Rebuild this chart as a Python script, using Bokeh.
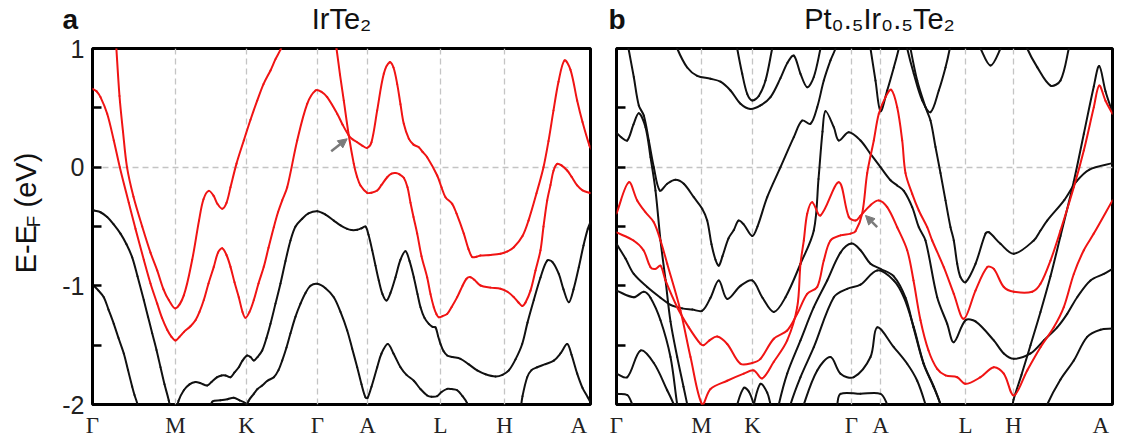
import math
from bokeh.plotting import figure
from bokeh.layouts import row, column
from bokeh.models import FixedTicker, Label, Arrow, NormalHead
from bokeh.embed import file_html
from bokeh.resources import INLINE

# ---------------- high-symmetry path ----------------
a_sym_k = [0.0, 0.83, 1.54, 2.25, 2.75, 3.48, 4.12, 4.98]
b_sym_k = [0.0, 0.85, 1.36, 2.35, 2.64, 3.49, 3.97, 4.96]
sym_labels = ["Γ", "M", "K", "Γ", "A", "L", "H", "A\u2002"]
e_ticks = [-2, -1, 0, 1]
e_minor = [-1.5, -0.5, 0.5]
title_a = "IrTe₂"
title_b = "Pt₀.₅Ir₀.₅Te₂"

# ---------------- panel a : IrTe2 (red bands) ----------------
a_r1_k = [0.235,0.27,0.305,0.345,0.41,0.497,0.58,0.647,0.71,0.763,0.83,0.913,0.997,1.065,1.11,1.163,1.21,1.25,1.297,1.34,1.38,1.44,1.513,1.58,1.647,1.71,1.78,1.83,1.88,1.91]
a_r1_e = [1.05,0.6,0.3,0.0,-0.25,-0.5,-0.72,-0.87,-1.03,-1.12,-1.19,-1.08,-0.78,-0.45,-0.27,-0.2,-0.24,-0.31,-0.35,-0.3,-0.17,0.03,0.225,0.40,0.56,0.70,0.815,0.91,0.99,1.05]

a_r2_k = [0.0,0.04,0.08,0.147,0.213,0.273,0.363,0.43,0.513,0.58,0.647,0.695,0.747,0.79,0.83,0.87,0.913,0.98,1.03,1.07,1.113,1.16,1.213,1.255,1.297,1.34,1.38,1.42,1.463,1.50,1.53,1.57,1.613,1.66,1.713,1.76,1.813,1.855,1.897,1.947,2.047,2.147,2.23,2.29,2.347,2.447,2.50,2.563,2.60,2.647,2.70,2.747,2.79,2.847,2.913,2.973,3.01,3.047,3.08,3.113,3.163,3.21,3.263,3.30,3.347,3.447,3.49,3.53,3.597,3.64,3.713,3.76,3.797,3.84,3.88,3.98,4.08,4.15,4.213,4.30,4.36,4.44,4.51,4.56,4.61,4.66,4.72,4.78,4.847,4.90,4.97,4.99]
a_r2_e = [0.66,0.64,0.59,0.45,0.225,0.0,-0.3,-0.52,-0.78,-0.98,-1.15,-1.27,-1.37,-1.43,-1.46,-1.43,-1.39,-1.34,-1.29,-1.22,-1.12,-0.98,-0.84,-0.72,-0.683,-0.74,-0.84,-0.97,-1.096,-1.22,-1.27,-1.22,-1.12,-0.98,-0.84,-0.68,-0.506,-0.38,-0.28,-0.17,0.225,0.534,0.646,0.635,0.59,0.45,0.36,0.267,0.235,0.21,0.18,0.163,0.21,0.478,0.787,0.885,0.84,0.70,0.53,0.365,0.24,0.19,0.168,0.13,0.084,-0.07,-0.17,-0.253,-0.309,-0.39,-0.56,-0.69,-0.757,-0.755,-0.745,-0.74,-0.73,-0.71,-0.675,-0.58,-0.45,-0.22,0.0,0.22,0.478,0.72,0.9,0.82,0.56,0.38,0.18,0.15]

a_r3_k = [2.43,2.44,2.475,2.513,2.563,2.613,2.645,2.68,2.747,2.79,2.847,2.89,2.947,2.99,3.03,3.07,3.113,3.15,3.18,3.21,3.247,3.29,3.347,3.38,3.413,3.44,3.463,3.50,3.547,3.59,3.647,3.70,3.74,3.78,3.82,3.88,3.98,4.08,4.15,4.213,4.26,4.297,4.33,4.38,4.43,4.48,4.51,4.547,4.58,4.61,4.647,4.69,4.747,4.79,4.847,4.90,4.97,4.99]
a_r3_e = [1.05,1.0,0.78,0.56,0.267,0.028,-0.08,-0.154,-0.216,-0.215,-0.197,-0.15,-0.085,-0.055,-0.05,-0.06,-0.09,-0.17,-0.3,-0.42,-0.56,-0.75,-0.93,-1.07,-1.18,-1.24,-1.265,-1.255,-1.236,-1.18,-1.095,-1.0,-0.94,-0.927,-0.95,-0.997,-1.015,-1.025,-1.05,-1.095,-1.14,-1.17,-1.14,-1.04,-0.87,-0.70,-0.5,-0.28,-0.15,-0.03,0.028,0.015,-0.028,-0.08,-0.154,-0.195,-0.216,-0.22]

# ---------------- panel a : black bands ----------------
a_b1_k = [0.0,0.013,0.08,0.147,0.21,0.28,0.34,0.397,0.45,0.513,0.555,0.597,0.64,0.68,0.72,0.763,0.78]
a_b1_e = [-0.36,-0.365,-0.38,-0.42,-0.48,-0.56,-0.65,-0.76,-0.92,-1.12,-1.26,-1.40,-1.54,-1.686,-1.83,-1.966,-2.05]
a_b2_k = [0.0,0.013,0.06,0.113,0.16,0.213,0.26,0.313,0.355,0.397,0.42,0.447,0.46]
a_b2_e = [-0.99,-1.0,-1.04,-1.096,-1.2,-1.32,-1.44,-1.57,-1.71,-1.85,-1.92,-1.99,-2.05]
a_b3_k = [0.845,0.86,0.913,0.97,1.03,1.08,1.147,1.19,1.247,1.29,1.33,1.38,1.42,1.463,1.50,1.547,1.58,1.613,1.65,1.697,1.74,1.78,1.83,1.88,1.93,1.98,2.03,2.097,2.16,2.247,2.33,2.413,2.48,2.547,2.59,2.647,2.69,2.73,2.76,2.797,2.83,2.863,2.90,2.94,2.98,3.03,3.08,3.13,3.17,3.213,3.25,3.28,3.32,3.363,3.40,3.43,3.455,3.48,3.51,3.547,3.60,3.68,3.76,3.847,3.93,4.03,4.10,4.163,4.23,4.297,4.35,4.413,4.48,4.547,4.60,4.663,4.71,4.763,4.81,4.863,4.91,4.953,4.99]
a_b3_e = [-2.05,-1.97,-1.88,-1.83,-1.81,-1.82,-1.84,-1.81,-1.77,-1.755,-1.755,-1.77,-1.73,-1.686,-1.63,-1.587,-1.60,-1.63,-1.60,-1.545,-1.44,-1.32,-1.15,-0.98,-0.79,-0.618,-0.5,-0.435,-0.39,-0.371,-0.40,-0.45,-0.49,-0.52,-0.53,-0.528,-0.515,-0.5,-0.57,-0.70,-0.83,-0.955,-1.07,-1.124,-1.06,-0.927,-0.78,-0.708,-0.79,-0.927,-1.07,-1.18,-1.27,-1.32,-1.345,-1.35,-1.42,-1.49,-1.55,-1.587,-1.60,-1.615,-1.66,-1.713,-1.745,-1.764,-1.75,-1.713,-1.62,-1.49,-1.31,-1.12,-0.93,-0.787,-0.80,-0.90,-1.03,-1.138,-1.03,-0.843,-0.66,-0.52,-0.44]
a_b4_k = [1.53,1.56,1.613,1.65,1.697,1.75,1.813,1.86,1.897,1.94,1.98,2.03,2.08,2.13,2.18,2.247,2.33,2.413,2.48,2.547,2.597,2.647,2.69,2.73,2.75,2.79,2.847,2.89,2.953,3.01,3.08,3.14,3.213,3.28,3.347,3.39,3.447,3.49,3.547,3.59,3.647,3.70,3.747,3.76]
a_b4_e = [-2.05,-1.97,-1.91,-1.87,-1.84,-1.80,-1.77,-1.71,-1.63,-1.52,-1.40,-1.26,-1.15,-1.06,-1.0,-0.983,-1.02,-1.096,-1.22,-1.376,-1.53,-1.686,-1.83,-1.94,-1.945,-1.85,-1.686,-1.57,-1.49,-1.57,-1.686,-1.75,-1.80,-1.87,-1.924,-1.935,-1.93,-1.895,-1.868,-1.87,-1.88,-1.93,-1.99,-2.05]
a_b5_k = [4.28,4.30,4.347,4.39,4.447,4.53,4.613,4.68,4.747,4.79,4.847,4.90,4.953,4.99]
a_b5_e = [-2.05,-1.93,-1.77,-1.71,-1.686,-1.66,-1.63,-1.57,-1.49,-1.58,-1.74,-1.86,-1.94,-2.0]
a_b6_k = [1.17,1.20,1.28,1.35,1.413,1.47,1.53,1.54]
a_b6_e = [-2.05,-1.975,-1.965,-1.955,-1.944,-1.965,-1.99,-2.05]

# ---------------- panel b : Pt0.5Ir0.5Te2 (red bands) ----------------
b_r1_k = [0.0,0.17,0.27,0.34,0.39,0.44,0.49,0.607,0.723,0.84,0.873,0.93,1.007,1.107,1.24,1.357,1.44,1.573,1.707,1.807,1.907,2.007,2.073,2.14,2.24,2.34,2.39,2.457,2.507,2.573,2.623,2.69,2.747,2.807,2.857,2.89,2.957,3.023,3.107,3.157,3.273,3.373,3.473,3.59,3.707,3.773,3.873,3.973,4.157,4.24,4.34,4.44,4.573,4.673,4.773,4.827,4.89,4.96]
b_r1_e = [-0.55,-0.618,-0.70,-0.843,-0.857,-0.83,-0.955,-1.18,-1.35,-1.49,-1.50,-1.46,-1.427,-1.49,-1.657,-1.65,-1.615,-1.446,-1.376,-1.236,-1.067,-1.01,-0.787,-0.618,-0.575,-0.56,-0.54,-0.39,-0.05,0.225,0.45,0.59,0.652,0.505,0.225,-0.05,-0.225,-0.365,-0.506,-0.618,-0.843,-1.067,-1.278,-1.04,-0.843,-0.857,-1.01,-1.05,-1.05,-0.983,-0.787,-0.534,-0.17,0.14,0.505,0.688,0.56,0.45]
b_r2_k = [0.0,0.123,0.207,0.29,0.373,0.44,0.507,0.64,0.74,0.857,0.94,1.107,1.273,1.373,1.457,1.573,1.707,1.807,1.84,1.873,1.907,1.957,2.04,2.223,2.323,2.39,2.44,2.54,2.623,2.707,2.807,2.907,2.97,3.04,3.12,3.207,3.29,3.407,3.49,3.64,3.773,3.873,3.973,4.107,4.24,4.373,4.473,4.573,4.673,4.773,4.96]
b_r2_e = [-0.39,-0.127,-0.28,-0.38,-0.464,-0.618,-0.814,-1.21,-1.60,-2.0,-1.87,-1.80,-1.74,-1.713,-1.78,-1.64,-1.46,-1.18,-0.814,-0.618,-0.393,-0.295,-0.407,-0.127,-0.42,-0.45,-0.41,-0.32,-0.28,-0.337,-0.506,-0.70,-0.955,-1.29,-1.545,-1.70,-1.755,-1.77,-1.826,-1.77,-1.686,-1.74,-1.924,-1.713,-1.517,-1.35,-1.18,-0.90,-0.70,-0.56,-0.28]

# ---------------- panel b : black bands ----------------
b_b1_k = [0.11,0.12,0.173,0.223,0.273,0.323,0.373,0.433,0.507,0.59,0.673,0.773,0.857,0.907,0.95,0.99,1.023,1.06,1.12,1.173,1.22,1.27,1.357,1.41,1.507,1.64,1.773,1.857,1.94,2.007,2.073,2.14,2.19,2.2]
b_b1_e = [1.05,1.0,0.76,0.52,0.435,0.225,0.0,-0.197,-0.14,-0.106,-0.14,-0.253,-0.35,-0.45,-0.65,-0.78,-0.83,-0.75,-0.6,-0.53,-0.45,-0.48,-0.58,-0.5,-0.253,0.0,0.253,0.393,0.365,0.505,0.73,0.9,1.0,1.05]
b_b2_k = [0.0,0.05,0.107,0.17,0.223,0.29,0.34,0.39,0.44,0.49,0.54,0.607,0.67,0.72]
b_b2_e = [0.29,0.25,0.225,0.36,0.455,0.337,0.084,-0.197,-0.618,-0.95,-1.3,-1.6,-1.85,-2.05]
b_b3_k = [1.2,1.207,1.257,1.307,1.357,1.423,1.49,1.557,1.57]
b_b3_e = [1.05,1.0,0.787,0.618,0.562,0.6,0.73,1.0,1.05]
b_b4_k = [0.6,0.607,0.707,0.807,0.94,1.04,1.14,1.24,1.34,1.44,1.54,1.64,1.71,1.773,1.84,1.907,1.973,2.04,2.05]
b_b4_e = [1.05,1.0,0.84,0.77,0.745,0.72,0.646,0.534,0.49,0.52,0.59,0.75,0.88,0.94,0.787,0.674,0.76,1.0,1.05]
b_b5_k = [2.53,2.54,2.59,2.64,2.707,2.773,2.823,2.83]
b_b5_e = [1.05,1.0,0.73,0.472,0.646,0.84,1.0,1.05]
b_b6_k = [2.9,2.907,2.973,3.057,3.14,3.223,3.29,3.333,3.34]
b_b6_e = [1.05,1.0,0.787,0.562,0.463,0.646,0.84,1.0,1.05]
b_b7_k = [2.935,2.94,3.007,3.09,3.14,3.19,3.24,3.29,3.34,3.373,3.407,3.44,3.49,3.59,3.69,3.723,3.84,3.973,4.173,4.24,4.307,4.478,4.6,4.73,4.96]
b_b7_e = [1.05,1.0,0.73,0.505,0.393,0.17,-0.05,-0.28,-0.506,-0.618,-0.814,-0.927,-0.97,-0.814,-0.56,-0.548,-0.646,-0.73,-0.618,-0.534,-0.45,-0.277,-0.12,-0.02,0.034]
b_b8_k = [0.0,0.09,0.173,0.307,0.44,0.54,0.657,0.757,0.857,0.94,1.023,1.107,1.24,1.357,1.46,1.573,1.69,1.84,1.973,2.02,2.06,2.09,2.173,2.223,2.323,2.44,2.54,2.64,2.74,2.807,2.873,2.957,3.023,3.09,3.207,3.307,3.373,3.49,3.59,3.773,3.873,3.973,4.14,4.273,4.407,4.507,4.607,4.74,4.873,4.96]
b_b8_e = [-0.646,-0.77,-0.90,-1.01,-1.10,-1.16,-1.19,-1.2,-1.21,-1.1,-0.955,-1.11,-1.0,-0.955,-1.1,-1.22,-1.096,-0.814,-0.534,-0.1,0.3,0.472,0.337,0.225,0.295,0.225,0.112,0.0,-0.11,-0.154,-0.2,-0.337,-0.506,-0.618,-1.096,-1.32,-1.475,-1.29,-1.3,-1.46,-1.57,-1.615,-1.57,-1.46,-1.35,-1.236,-1.096,-0.955,-0.90,-0.857]
b_b9_k = [0.0,0.173,0.273,0.34,0.44,0.54,0.607,0.62]
b_b9_e = [-1.04,-1.096,-1.05,-1.1,-1.29,-1.60,-2.0,-2.05]
b_b10_k = [0.0,0.107,0.24,0.373,0.507,0.573,0.59]
b_b10_e = [-1.74,-1.77,-1.545,-1.65,-1.88,-2.0,-2.05]
b_b11_k = [0.0,0.107,0.157,0.17]
b_b11_e = [-1.91,-1.92,-2.0,-2.05]
b_b12_k = [1.2,1.207,1.273,1.323,1.373,1.38]
b_b12_e = [-2.05,-2.0,-1.86,-1.89,-2.0,-2.05]
b_b13_k = [1.37,1.373,1.44,1.507,1.54,1.55]
b_b13_e = [-2.05,-2.0,-1.826,-1.9,-2.0,-2.05]
b_b14_k = [1.62,1.623,1.707,1.84,1.973,2.107,2.24,2.35,2.44,2.54,2.64,2.773,2.89,2.97,3.07,3.17,3.24,3.25]
b_b14_e = [-2.05,-2.0,-1.74,-1.46,-1.18,-0.955,-0.72,-0.644,-0.70,-0.814,-0.857,-0.92,-1.1,-1.35,-1.657,-1.85,-2.0,-2.05]
b_b15_k = [1.735,1.74,1.84,1.973,2.173,2.307,2.44,2.607,2.773,2.873,2.973,3.073,3.173,3.24,3.25]
b_b15_e = [-2.05,-2.0,-1.77,-1.517,-1.096,-1.025,-0.99,-0.87,-0.955,-1.096,-1.35,-1.657,-1.85,-2.0,-2.05]
b_b16_k = [1.87,1.873,2.007,2.14,2.24,2.373,2.54,2.607,2.773,2.907,3.007,3.09,3.1]
b_b16_e = [-2.05,-2.0,-1.713,-1.60,-1.74,-1.77,-1.6,-1.35,-1.517,-1.657,-1.80,-2.0,-2.05]
b_b17_k = [2.2,2.207,2.24,2.44,2.64,2.707,2.72]
b_b17_e = [-2.05,-2.0,-1.91,-1.91,-1.91,-2.0,-2.05]
b_b18_k = [4.3,4.307,4.44,4.573,4.707,4.84,4.96]
b_b18_e = [-2.05,-2.0,-1.79,-1.63,-1.43,-1.37,-1.36]
b_b19_k = [3.96,3.97,4.05,4.14,4.24,4.34,4.44,4.573,4.673,4.773,4.827,4.89,4.96]
b_b19_e = [-2.02,-1.96,-1.75,-1.5,-1.22,-0.92,-0.58,-0.12,0.28,0.68,0.853,0.64,0.46]
b_b20_k = [3.62,3.64,3.74,3.84,3.85]
b_b20_e = [1.05,1.0,0.857,1.0,1.05]
b_b21_k = [4.1,4.107,4.207,4.34,4.44,4.523,4.53]
b_b21_e = [1.05,1.0,0.843,0.688,0.73,1.0,1.05]

a_red = [(a_r1_k, a_r1_e), (a_r2_k, a_r2_e), (a_r3_k, a_r3_e)]
a_black = [(a_b1_k, a_b1_e), (a_b2_k, a_b2_e), (a_b3_k, a_b3_e), (a_b4_k, a_b4_e), (a_b5_k, a_b5_e), (a_b6_k, a_b6_e)]
b_red = [(b_r1_k, b_r1_e), (b_r2_k, b_r2_e)]
b_black = [(b_b1_k, b_b1_e), (b_b2_k, b_b2_e), (b_b3_k, b_b3_e), (b_b4_k, b_b4_e), (b_b5_k, b_b5_e),
           (b_b6_k, b_b6_e), (b_b7_k, b_b7_e), (b_b8_k, b_b8_e), (b_b9_k, b_b9_e), (b_b10_k, b_b10_e),
           (b_b11_k, b_b11_e), (b_b12_k, b_b12_e), (b_b13_k, b_b13_e), (b_b14_k, b_b14_e), (b_b15_k, b_b15_e),
           (b_b16_k, b_b16_e), (b_b17_k, b_b17_e), (b_b18_k, b_b18_e), (b_b19_k, b_b19_e), (b_b20_k, b_b20_e),
           (b_b21_k, b_b21_e)]

# arrows marking the crossing points (k, E)
a_arrow = (2.387, 0.135, 2.547, 0.239)
b_arrow = (2.607, -0.506, 2.49, -0.407)

RED = "#f01414"
BLACK = "#111111"
GRID = "#c4c4c4"
FONT = "Liberation Sans"
KPX, EPX = 100.0, 118.67   # approximate pixels per unit, used only for curve tangents


def smooth_band(p, k, e, color):
    """Draw the band through the read points as a chain of cubic Bezier segments."""
    n = len(k)
    d = [max(math.hypot((k[i + 1] - k[i]) * KPX, (e[i + 1] - e[i]) * EPX), 1e-6) for i in range(n - 1)]
    tx, ty = [], []
    for i in range(n):
        if i == 0:
            tx.append((k[1] - k[0]) / d[0]); ty.append((e[1] - e[0]) / d[0])
        elif i == n - 1:
            tx.append((k[i] - k[i - 1]) / d[i - 1]); ty.append((e[i] - e[i - 1]) / d[i - 1])
        else:
            s = d[i - 1] + d[i]
            tx.append((k[i + 1] - k[i - 1]) / s); ty.append((e[i + 1] - e[i - 1]) / s)
    x0, y0, x1, y1, cx0, cy0, cx1, cy1 = [], [], [], [], [], [], [], []
    for i in range(n - 1):
        h = d[i] / 3.0
        x0.append(k[i]); y0.append(e[i]); x1.append(k[i + 1]); y1.append(e[i + 1])
        cx0.append(k[i] + tx[i] * h); cy0.append(e[i] + ty[i] * h)
        cx1.append(k[i + 1] - tx[i + 1] * h); cy1.append(e[i + 1] - ty[i + 1] * h)
    p.bezier(x0=x0, y0=y0, x1=x1, y1=y1, cx0=cx0, cy0=cy0, cx1=cx1, cy1=cy1,
             line_color=color, line_width=2, line_cap="round")


def make_panel(width, bl, br, sym_k, show_ylabels):
    p = figure(width=width, height=406, x_range=(0, sym_k[-1]), y_range=(-2, 1),
               output_backend="svg", toolbar_location=None,
               min_border_left=bl, min_border_right=br, min_border_top=14, min_border_bottom=36)
    p.outline_line_color = "black"
    p.outline_line_width = 3
    p.outline_line_alpha = 1.0

    xa = p.xaxis[0]
    xa.ticker = FixedTicker(ticks=sym_k)
    xa.major_label_overrides = {float(k): lab for k, lab in zip(sym_k, sym_labels)}
    xa.axis_line_color = None
    xa.major_tick_in = 0
    xa.major_tick_out = 0
    xa.minor_tick_in = 0
    xa.minor_tick_out = 0
    xa.major_label_text_font = "Liberation Serif"
    xa.major_label_text_font_size = "23px"
    xa.major_label_text_color = "#222222"
    xa.major_label_standoff = 8

    ya = p.yaxis[0]
    ya.ticker = FixedTicker(ticks=e_ticks, minor_ticks=e_minor)
    ya.axis_line_color = None
    ya.major_tick_in = 9
    ya.major_tick_out = 0
    ya.minor_tick_in = 9
    ya.minor_tick_out = 0
    ya.major_tick_line_width = 2.5
    ya.minor_tick_line_width = 2.5
    ya.major_label_text_font = FONT
    ya.major_label_text_font_size = "25px"
    ya.major_label_text_color = "#222222"
    if show_ylabels:
        ya.major_label_overrides = {t: str(t) for t in e_ticks}
        ya.major_label_standoff = 8
    else:
        ya.major_label_overrides = {t: "" for t in e_ticks}
        ya.major_label_standoff = 0
        ya.major_label_text_font_size = "1px"

    p.xgrid.ticker = FixedTicker(ticks=sym_k[1:-1])
    p.ygrid.ticker = FixedTicker(ticks=[0])
    for g in (p.xgrid, p.ygrid):
        g.grid_line_color = GRID
        g.grid_line_dash = "6 4"
        g.grid_line_width = 1.3
    return p


def text_holder(width, height):
    t = figure(width=width, height=height, x_range=(0, width), y_range=(0, height),
               output_backend="svg", toolbar_location=None,
               x_axis_type=None, y_axis_type=None, min_border=0)
    t.grid.visible = False
    t.outline_line_color = None
    return t


def label(p, x, y, text, size, bold=False, angle=0.0, align="center"):
    p.add_layout(Label(x=x, y=y, text=text,
                       text_font=FONT, text_font_size=size,
                       text_font_style="bold" if bold else "normal",
                       text_color="#111111", angle=angle,
                       text_align=align, text_baseline="middle"))


pa = make_panel(542, 36, 8, a_sym_k, True)
pb = make_panel(522, 18, 8, b_sym_k, False)

for k, e in a_black:
    smooth_band(pa, k, e, BLACK)
for k, e in a_red:
    smooth_band(pa, k, e, RED)
for k, e in b_black:
    smooth_band(pb, k, e, BLACK)
for k, e in b_red:
    smooth_band(pb, k, e, RED)

for p, (x0, y0, x1, y1) in ((pa, a_arrow), (pb, b_arrow)):
    p.add_layout(Arrow(end=NormalHead(size=9, fill_color="#7a7a7a", line_color="#7a7a7a"),
                       x_start=x0, y_start=y0, x_end=x1, y_end=y1,
                       line_color="#7a7a7a", line_width=2.5))

# title strip (pixel positions inside its own frame, y measured from its bottom)
top = text_holder(1120, 34)
label(top, 62, 15.5, "a", "28px", bold=True, align="left")
label(top, 341, 15.5, title_a, "29px")
label(top, 608, 15.5, "b", "28px", bold=True, align="left")
label(top, 879, 15.5, title_b, "29px")

# y-axis title  E-E_F (eV), rotated, pieces centred along the text direction
side = text_holder(56, 406)
label(side, 25, 177.2, "E-E", "29px", angle=math.pi / 2)
label(side, 33.4, 208.8, "F", "19px", angle=math.pi / 2)
label(side, 25, 256, "(eV)", "29px", angle=math.pi / 2)

layout = column(top, row(side, pa, pb))
open("out.html", "w").write(file_html(layout, INLINE))
